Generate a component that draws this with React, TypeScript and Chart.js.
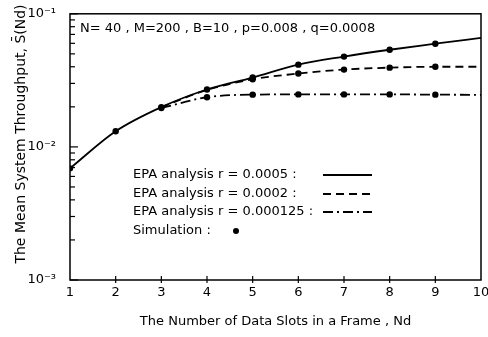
import React, { useEffect, useRef } from 'react';
import { Chart, registerables } from 'chart.js';
Chart.register(...registerables);

const nd = [1, 2, 3, 4, 5, 6, 7, 8, 9, 10];
const epa0005 = [0.0069, 0.0131, 0.0199, 0.027, 0.0332, 0.0415, 0.0477, 0.0537, 0.0596, 0.066];
const epa0002 = [null, null, 0.0199, 0.0268, 0.0322, 0.0356, 0.0381, 0.0394, 0.04, 0.04];
const epa000125 = [null, null, 0.0196, 0.0236, 0.0247, 0.0248, 0.0248, 0.0248, 0.0247, 0.0246];
const simSolid = [1, 1, 1, 1, 1, 1, 1, 1, 1, 0];
const simDash = [0, 0, 0, 0, 1, 1, 1, 1, 1, 0];
const simDashDot = [0, 0, 1, 1, 1, 1, 1, 1, 1, 0];
const xTickValues = [1, 2, 3, 4, 5, 6, 7, 8, 9, 10];
const yDecades = [0.001, 0.01, 0.1];
const yTickLabels = ['10\u207B\u00B3', '10\u207B\u00B2', '10\u207B\u00B9'];
const legendLabels = ['EPA analysis r = 0.0005 :', 'EPA analysis r = 0.0002 :', 'EPA analysis r = 0.000125 :', 'Simulation :'];
const noteText = 'N= 40 , M=200 , B=10 , p=0.008 , q=0.0008';
const xTitle = 'The Number of Data Slots in a Frame , Nd';
const yTitle = 'The Mean System Throughput, S\u0304(Nd)';

const FONT = '"DejaVu Sans", sans-serif';

const mk = (vals: (number | null)[], sim: number[], dash: number[]) => ({
  data: nd.map((x, i) => ({ x, y: vals[i] })),
  borderColor: '#000',
  backgroundColor: '#000',
  borderWidth: 1.8,
  borderDash: dash,
  pointRadius: sim.map((s) => (s ? 3.2 : 0)),
  pointBackgroundColor: '#000',
  pointBorderWidth: 0,
  cubicInterpolationMode: 'monotone' as const,
  spanGaps: false,
});

const decor = {
  id: 'decor',
  afterDraw(chart: any) {
    const ctx = chart.ctx;
    const { left, right, top, bottom } = chart.chartArea;
    const xs = chart.scales.x;
    const ys = chart.scales.y;
    ctx.save();
    ctx.strokeStyle = '#000';
    ctx.lineWidth = 1.5;
    ctx.strokeRect(left, top, right - left, bottom - top);
    ctx.lineWidth = 1.2;
    for (const d of [0.001, 0.01]) {
      for (let m = 2; m <= 9; m++) {
        const py = ys.getPixelForValue(d * m);
        ctx.beginPath();
        ctx.moveTo(left, py);
        ctx.lineTo(left + 5, py);
        ctx.stroke();
      }
    }
    for (const d of yDecades) {
      const py = ys.getPixelForValue(d);
      ctx.beginPath();
      ctx.moveTo(left, py);
      ctx.lineTo(left + 8, py);
      ctx.stroke();
    }
    for (let v = 2; v <= 9; v++) {
      const px = xs.getPixelForValue(v);
      ctx.beginPath();
      ctx.moveTo(px, bottom - 4);
      ctx.lineTo(px, bottom + 3);
      ctx.stroke();
    }
    ctx.fillStyle = '#000';
    ctx.font = `13px ${FONT}`;
    ctx.textBaseline = 'middle';
    ctx.textAlign = 'center';
    xTickValues.forEach((v) => ctx.fillText(String(v), xs.getPixelForValue(v), bottom + 13));
    ctx.textAlign = 'left';
    ctx.fillText(noteText, 80, 29);
    const ly = [175, 194, 212, 231];
    legendLabels.forEach((t, i) => ctx.fillText(t, 133, ly[i]));
    ctx.lineWidth = 1.8;
    const dashes = [[], [8, 5], [10, 4, 2, 4]];
    dashes.forEach((d, i) => {
      ctx.setLineDash(d);
      ctx.beginPath();
      ctx.moveTo(323, ly[i]);
      ctx.lineTo(372, ly[i]);
      ctx.stroke();
    });
    ctx.setLineDash([]);
    ctx.beginPath();
    ctx.arc(236, ly[3], 3, 0, Math.PI * 2);
    ctx.fill();
    ctx.textAlign = 'center';
    ctx.fillText(xTitle, (left + right) / 2, 322);
    ctx.font = `14px ${FONT}`;
    ctx.translate(21, 134);
    ctx.rotate(-Math.PI / 2);
    ctx.fillText(yTitle, 0, 0);
    ctx.restore();
  },
};

export default function App() {
  const ref = useRef<HTMLCanvasElement>(null);
  useEffect(() => {
    const chart = new Chart(ref.current!, {
      type: 'line',
      data: {
        datasets: [
          mk(epa0005, simSolid, []),
          mk(epa0002, simDash, [8, 5]),
          mk(epa000125, simDashDot, [10, 4, 2, 4]),
        ],
      },
      options: {
        animation: false,
        responsive: false,
        layout: { padding: { left: 0, right: 7, top: 13, bottom: 0 } },
        plugins: { legend: { display: false }, tooltip: { enabled: false } },
        scales: {
          x: {
            type: 'linear',
            min: 1,
            max: 10,
            grid: { display: false },
            border: { display: false },
            ticks: { display: false, stepSize: 1 },
            afterFit: (s: any) => { s.height = 57; },
          },
          y: {
            type: 'logarithmic',
            min: 0.001,
            max: 0.1,
            grid: { display: false },
            border: { display: false },
            afterBuildTicks: (s: any) => { s.ticks = yDecades.map((v) => ({ value: v })); },
            ticks: {
              color: '#000',
              font: { size: 13, family: FONT },
              padding: 6,
              callback: (v: any) => {
                const i = yDecades.findIndex((d) => Math.abs(d - v) / d < 1e-6);
                return i >= 0 ? yTickLabels[i] : '';
              },
            },
            afterFit: (s: any) => { s.width = 70; },
          },
        },
      },
      plugins: [decor],
    });
    return () => chart.destroy();
  }, []);
  return (
    <div style={{ position: 'fixed', left: 0, top: 0, width: 488, height: 337, background: '#fff' }}>
      <canvas ref={ref} width={488} height={337} />
    </div>
  );
}
